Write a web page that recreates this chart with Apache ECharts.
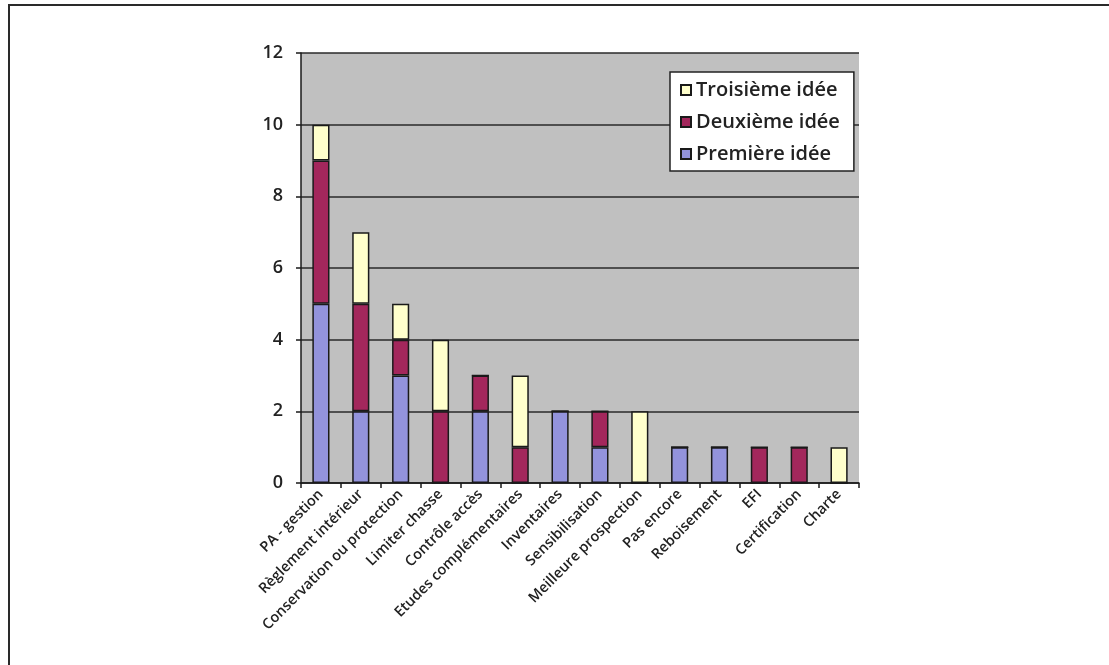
<!DOCTYPE html>
<html>
<head>
<meta charset="utf-8">
<script src="https://cdn.jsdelivr.net/npm/echarts@6/dist/echarts.min.js"></script>
<style>
  html, body { margin: 0; padding: 0; background: #fff; }
  #chart { width: 1109px; height: 665px; }
</style>
</head>
<body>
<div id="chart"></div>
<script>
// Categories (x axis)
const categories = [
  'PA - gestion', 'Règlement intérieur', 'Conservation ou protection',
  'Limiter chasse', 'Contrôle accès', 'Etudes complémentaires',
  'Inventaires', 'Sensibilisation', 'Meilleure prospection',
  'Pas encore', 'Reboisement', 'EFI', 'Certification', 'Charte'
];

// Counts per idea rank
const premiere  = [5, 2, 3, 0, 2, 0, 2, 1, 0, 1, 1, 0, 0, 0];
const deuxieme  = [4, 3, 1, 2, 1, 1, 0, 1, 0, 0, 0, 1, 1, 0];
const troisieme = [1, 2, 1, 2, 0, 2, 0, 0, 2, 0, 0, 0, 0, 1];

const seriesNames = ['Première idée', 'Deuxième idée', 'Troisième idée'];
const legendOrder = ['Troisième idée', 'Deuxième idée', 'Première idée'];

const FONT = '"Open Sans", "Noto Sans", sans-serif';
const chart = echarts.init(document.getElementById('chart'));

function barSeries(name, data, color) {
  return {
    name: name,
    type: 'bar',
    stack: 'total',
    data: data,
    barWidth: '43%',
    itemStyle: { color: color, borderColor: '#1a1a1a', borderWidth: 1.5 },
    emphasis: { disabled: true }
  };
}

chart.setOption({
  animation: false,
  backgroundColor: '#ffffff',
  graphic: [
    { type: 'line', shape: { x1: 8, y1: 5, x2: 1109, y2: 5 },
      style: { stroke: '#2a2a2a', lineWidth: 2 } },
    { type: 'line', shape: { x1: 9, y1: 4, x2: 9, y2: 665 },
      style: { stroke: '#2a2a2a', lineWidth: 2 } }
  ],
  grid: {
    left: 301, top: 53, right: 250, bottom: 182,
    show: true, backgroundColor: '#c0c0c0', borderWidth: 0
  },
  legend: {
    data: legendOrder,
    orient: 'vertical',
    left: 670, top: 72,
    backgroundColor: '#ffffff',
    borderColor: '#222',
    borderWidth: 1.5,
    padding: [8, 14, 7, 10],
    itemWidth: 10, itemHeight: 10,
    itemGap: 12,
    icon: 'rect',
    textStyle: { fontFamily: FONT, fontSize: 20, fontWeight: 600, color: '#222' }
  },
  xAxis: {
    type: 'category',
    data: categories,
    boundaryGap: true,
    axisLine: { lineStyle: { color: '#1a1a1a', width: 1.5 } },
    axisTick: { show: true, inside: false, length: 5, alignWithLabel: false,
      lineStyle: { color: '#1a1a1a', width: 1.5 } },
    axisLabel: { rotate: 45, interval: 0, margin: 9,
      fontFamily: FONT, fontSize: 14.5, fontWeight: 600, color: '#222' },
    splitLine: { show: false }
  },
  yAxis: {
    type: 'value',
    min: 0, max: 12, interval: 2,
    axisLine: { show: true, lineStyle: { color: '#1a1a1a', width: 1.5 } },
    axisTick: { show: true, inside: false, length: 5,
      lineStyle: { color: '#1a1a1a', width: 1.5 } },
    axisLabel: { margin: 18, fontFamily: FONT, fontSize: 18, fontWeight: 600, color: '#222' },
    splitLine: { show: true, lineStyle: { color: '#2a2a2a', width: 1.5 } }
  },
  series: [
    barSeries(seriesNames[0], premiere, '#9393dc'),
    barSeries(seriesNames[1], deuxieme, '#a3275c'),
    barSeries(seriesNames[2], troisieme, '#ffffcc')
  ]
});
</script>
</body>
</html>
